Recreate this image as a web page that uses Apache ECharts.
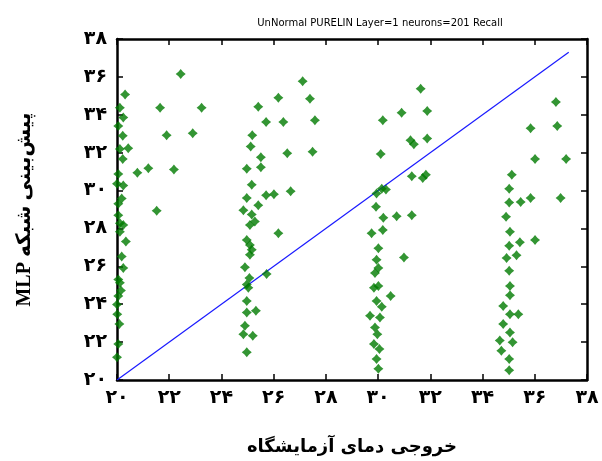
<!DOCTYPE html>
<html>
<head>
<meta charset="utf-8">
<script src="https://cdn.jsdelivr.net/npm/echarts@6/dist/echarts.min.js"></script>
<style>html,body{margin:0;padding:0;background:#fff;}#c{width:602px;height:461px;}</style>
</head>
<body>
<div id="c"></div>
<script>
const measured = [
  20.31,21.65,20.11,20.24,20.05,20.22,20.43,20.11,20.22,21.20,20.78,22.18,20.05,20.24,20.00,20.18,21.52,20.05,20.05,20.11,20.24,20.11,20.34,20.18,20.24,20.05,20.11,20.15,20.05,20.00,20.01,20.09,20.05,20.00,22.44,23.24,21.90,22.90,
  27.11,26.18,27.39,25.41,25.71,26.37,27.58,25.18,25.12,26.52,27.49,25.51,25.51,24.97,25.16,26.65,25.71,26.01,24.97,25.41,24.84,25.16,25.28,25.09,26.18,24.97,25.09,25.16,25.09,24.90,25.07,25.73,24.97,25.03,24.97,24.97,25.32,24.90,25.20,24.84,24.97,
  31.63,30.90,31.88,30.18,31.24,31.37,31.88,30.10,31.29,31.83,31.71,30.14,30.30,29.94,29.92,30.20,30.71,31.29,30.18,29.75,30.01,30.99,29.94,30.01,29.88,30.01,29.84,30.48,29.94,30.14,29.69,30.07,29.88,29.97,29.84,30.05,29.94,30.01,
  36.81,35.84,36.86,36.01,37.20,35.12,35.02,35.02,35.46,35.84,36.99,34.90,35.05,35.02,35.43,36.01,34.92,35.30,35.02,35.05,35.05,34.79,35.05,35.37,34.79,35.05,34.66,35.15,34.72,35.02,35.02
];
const predicted = [
  35.07,34.37,34.37,33.85,33.41,32.89,32.23,32.20,31.67,31.18,30.94,31.11,30.88,30.27,30.36,29.58,28.93,29.31,28.70,28.27,28.18,27.83,27.31,26.52,25.91,25.30,25.13,24.73,24.43,23.99,23.47,22.95,21.90,21.20,36.15,34.37,32.92,33.03,
  35.77,34.90,34.84,34.43,33.62,33.62,33.71,32.92,32.33,31.97,32.05,31.76,31.23,31.15,30.31,29.96,29.75,29.80,29.61,29.23,28.96,28.74,28.36,28.18,27.74,27.39,27.13,26.87,26.61,25.95,25.39,25.60,25.04,24.87,24.17,23.56,23.65,22.86,22.34,22.42,21.46,
  35.37,34.11,34.20,33.71,32.66,32.45,32.75,31.93,30.76,30.83,30.66,30.10,30.06,29.84,29.14,28.57,28.65,28.70,27.92,27.74,26.96,26.47,26.35,25.91,25.65,24.96,24.87,24.43,24.17,23.86,23.39,23.30,22.77,22.42,21.90,21.64,21.11,20.59,
  34.67,33.29,33.41,31.67,31.67,30.83,30.10,29.37,29.40,29.61,29.61,28.62,27.83,27.08,27.27,27.39,26.44,26.58,25.77,24.96,24.48,23.91,23.47,23.47,22.95,22.51,22.08,21.99,21.55,21.11,20.51
];
// Ideal line y = x
const idealLine = [20, 37.3];
const tickValues = [20,22,24,26,28,30,32,34,36,38];
const tickLabels = ['۲۰','۲۲','۲۴','۲۶','۲۸','۳۰','۳۲','۳۴','۳۶','۳۸'];
const titleText = 'UnNormal PURELIN Layer=1 neurons=201 Recall';
const xName = 'خروجی دمای آزمایشگاه';
const yName = 'MLP پیش‌بینی شبکه';

const labelFor = v => { const i = tickValues.indexOf(Math.round(v)); return i >= 0 ? tickLabels[i] : ''; };
const pts = measured.map((x, i) => [x, predicted[i]]);
const star = 'path://M0,-10 L4.5,-4.5 L10,0 L4.5,4.5 L0,10 L-4.5,4.5 L-10,0 L-4.5,-4.5 Z';
const tickFont = {color:'#000', fontSize:19, fontWeight:'bold', fontFamily:'DejaVu Sans'};
const lineStyle = {color:'#000', width:2.5};

function axisBase(extra) {
  return Object.assign({
    type:'value', min:20, max:38, interval:2,
    axisLine:{show:true, onZero:false, lineStyle},
    axisTick:{show:true, inside:true, length:6, lineStyle:{color:'#000', width:1.5}},
    splitLine:{show:false},
  }, extra);
}

const chart = echarts.init(document.getElementById('c'), null, {renderer:'canvas'});
chart.setOption({
  animation:false,
  backgroundColor:'#fff',
  title:{text:titleText, left:375, top:13, textAlign:'center',
    textStyle:{fontSize:10, fontWeight:'normal', fontFamily:'DejaVu Sans', color:'#000'}},
  grid:{left:117, right:15, top:39, bottom:78},
  xAxis:[
    axisBase({position:'bottom', name:xName, nameLocation:'middle', nameGap:58,
      nameTextStyle:{fontSize:18, fontWeight:'bold', fontFamily:'DejaVu Sans', color:'#000'},
      axisLabel:{...tickFont, margin:9, formatter:labelFor}}),
    axisBase({position:'top', axisLabel:{show:false}})
  ],
  yAxis:[
    axisBase({position:'left', name:yName, nameLocation:'middle', nameGap:82, nameRotate:90,
      nameTextStyle:{fontSize:20, fontWeight:'bold', fontFamily:'Liberation Serif, DejaVu Sans', color:'#000'},
      axisLabel:{...tickFont, margin:10, formatter:labelFor}}),
    axisBase({position:'right', axisLabel:{show:false}})
  ],
  series:[
    {type:'line', data:[[idealLine[0], idealLine[0]], [idealLine[1], idealLine[1]]],
      symbol:'none', lineStyle:{color:'#1a1aff', width:1.2}, z:1},
    {type:'scatter', data:pts, symbol:star, symbolSize:10,
      itemStyle:{color:'#007a00'}, z:2}
  ]
});
</script>
</body>
</html>
